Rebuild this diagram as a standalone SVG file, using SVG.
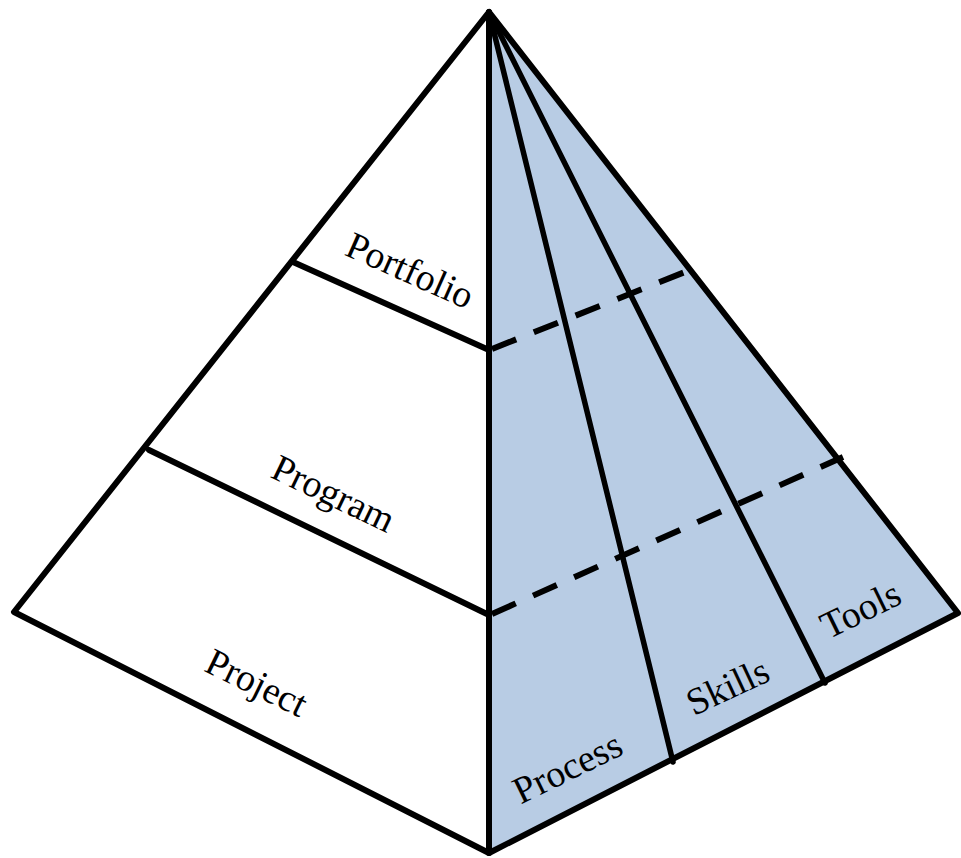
<svg xmlns="http://www.w3.org/2000/svg" width="961" height="858" viewBox="0 0 961 858">
<style>
.edge{fill:none;stroke:#000;stroke-width:6;stroke-linejoin:round;stroke-linecap:round}
.thin{fill:none;stroke:#000;stroke-width:5.5;stroke-linecap:round}
.dash{fill:none;stroke:#000;stroke-width:6;stroke-dasharray:26 19}
.lbl{font-family:"Liberation Serif","Times New Roman",serif;font-size:38px;fill:#000;text-anchor:middle}
</style>
<rect width="961" height="858" fill="#fff"/>
<g id="left-face">
<polygon points="489,12 14,612 489,853" fill="#fff"/>
</g>
<g id="right-face">
<polygon points="489,12 958,613 489,853" fill="#B8CCE4"/>
</g>
<g id="connectors">
<line class="thin" x1="489" y1="12" x2="673" y2="762"/>
<line class="thin" x1="489" y1="12" x2="825" y2="683"/>
<line class="edge" x1="293" y1="262" x2="489" y2="350"/>
<line class="edge" x1="149" y1="450" x2="489" y2="615"/>
<line class="dash" x1="492" y1="349" x2="690" y2="270"/>
<line class="dash" x1="492" y1="614" x2="843" y2="457"/>
<polygon class="edge" points="489,12 14,612 489,853 958,613"/>
<line class="edge" x1="489" y1="12" x2="489" y2="853"/>
</g>
<g id="portfolio"><text class="lbl" transform="translate(405,282) rotate(24)">Portfolio</text></g>
<g id="program"><text class="lbl" transform="translate(328,505) rotate(25.5)">Program</text></g>
<g id="project"><text class="lbl" transform="translate(251,694) rotate(26)">Project</text></g>
<g id="process"><text class="lbl" transform="translate(573,779) rotate(-26)">Process</text></g>
<g id="skills"><text class="lbl" transform="translate(733,698) rotate(-25)">Skills</text></g>
<g id="tools"><text class="lbl" transform="translate(866,621) rotate(-26)">Tools</text></g>
</svg>
